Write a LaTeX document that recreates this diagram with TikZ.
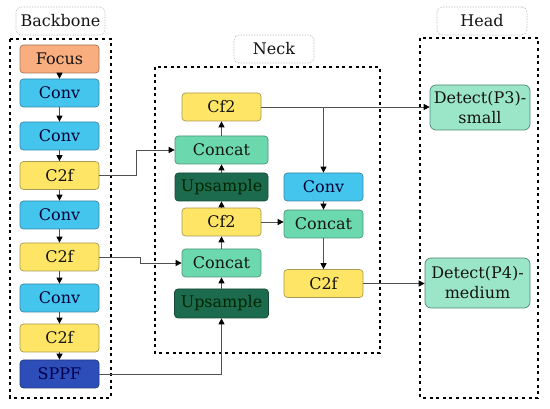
\documentclass[tikz,border=0pt]{standalone}
\usepackage{fontspec}
\setmainfont{DejaVu Serif}
\usetikzlibrary{arrows.meta,positioning}
\definecolor{focusF}{HTML}{F9AE80}\definecolor{focusD}{HTML}{A87656}
\definecolor{convF}{HTML}{44C5EE}\definecolor{convD}{HTML}{3A88A8}
\definecolor{cfF}{HTML}{FFE566}\definecolor{cfD}{HTML}{A89A4E}
\definecolor{sppfF}{HTML}{2D4DB8}\definecolor{sppfD}{HTML}{22397E}
\definecolor{catF}{HTML}{6CD8AE}\definecolor{catD}{HTML}{4A957A}
\definecolor{upF}{HTML}{1D6B4E}\definecolor{upD}{HTML}{164A37}
\definecolor{detF}{HTML}{9BE5C9}\definecolor{detD}{HTML}{4D8A72}
\definecolor{txt}{HTML}{141414}
\definecolor{lineC}{HTML}{505050}
\tikzset{
  blk/.style={rounded corners=3.5pt, line width=0.7pt, minimum width=79pt, minimum height=28pt, inner sep=0pt, font=\fontsize{16}{18}\selectfont, text=txt},
  focusb/.style={blk, fill=focusF, draw=focusD},
  convb/.style={blk, fill=convF, draw=convD, text={black!80!blue}},
  cfb/.style={blk, fill=cfF, draw=cfD},
  sppfb/.style={blk, fill=sppfF, draw=sppfD, text={black!70!blue}},
  catb/.style={blk, fill=catF, draw=catD},
  upb/.style={blk, fill=upF, draw=upD, text={black!85!green}},
  detb/.style={blk, fill=detF, draw=detD, align=center, font=\fontsize{16}{20}\selectfont, rounded corners=6pt},
  lbl/.style={rounded corners=5pt, draw=black!35, densely dotted, line width=0.6pt, minimum height=28pt, inner sep=0pt, font=\fontsize{16}{18}\selectfont, text=txt},
  group/.style={draw=black, line width=2.2pt, dash pattern=on 3pt off 3.6pt},
  arr/.style={draw=lineC, line width=0.8pt, -{Triangle[length=6pt,width=6pt,color=black]}},
  ln/.style={draw=lineC, line width=0.8pt}
}
\begin{document}
\begin{tikzpicture}[x=1pt,y=-1pt]
\useasboundingbox (0,0) rectangle (550,409);
% groups
\draw[group] (10,39) rectangle (111,398);
\draw[group] (155,67) rectangle (380,353);
\draw[group] (420,38) rectangle (538,398);
% labels
\node[lbl, minimum width=89pt] (lb) at (60.5,21) {Backbone};
\node[lbl, minimum width=80pt] (ln) at (274,49) {Neck};
\node[lbl, minimum width=90pt] (lh) at (482,21) {Head};
% backbone
\node[focusb] (focus) at (59.5,59) {Focus};
\node[convb] (conv1) at (59.5,93) {Conv};
\node[convb] (conv2) at (59.5,136) {Conv};
\node[cfb] (c2f1) at (59.5,175.5) {C2f};
\node[convb] (conv3) at (59.5,215) {Conv};
\node[cfb] (c2f2) at (59.5,257) {C2f};
\node[convb] (conv4) at (59.5,298) {Conv};
\node[cfb] (c2f3) at (59.5,338) {C2f};
\node[sppfb] (sppf) at (59.5,374) {SPPF};
% neck
\node[cfb] (cf2t) at (221.5,107) {Cf2};
\node[catb, minimum width=93pt] (catt) at (221.5,150) {Concat};
\node[upb, minimum width=93pt] (upt) at (221.5,187) {Upsample};
\node[cfb] (cf2m) at (221.5,222) {Cf2};
\node[catb] (catm) at (221.5,263) {Concat};
\node[upb, minimum width=94pt, minimum height=29pt] (upbot) at (221.5,303.5) {Upsample};
\node[convb] (convr) at (323.5,187) {Conv};
\node[catb] (catr) at (323.5,224) {Concat};
\node[cfb] (c2fr) at (323.5,283.5) {C2f};
% head
\node[detb, minimum width=100pt, minimum height=45pt] (det3) at (480,107.5) {Detect(P3)-\\small};
\node[detb, minimum width=105pt, minimum height=50pt] (det4) at (477.5,283) {Detect(P4)-\\medium};
% backbone arrows
\foreach \a/\b in {focus/conv1,conv1/conv2,conv2/c2f1,c2f1/conv3,conv3/c2f2,c2f2/conv4,conv4/c2f3,c2f3/sppf}
  \draw[arr] (\a.south) -- (\b.north);
% neck vertical
\draw[arr] (upbot.north) -- (catm.south);
\draw[arr] (catm.north) -- (cf2m.south);
\draw[arr] (cf2m.north) -- (upt.south);
\draw[arr] (upt.north) -- (catt.south);
\draw[arr] (catt.north) -- (cf2t.south);
\draw[arr] (convr.south) -- (catr.north);
\draw[arr] (catr.south) -- (c2fr.north);
% cross connections
\draw[arr] (c2f1.east) -- ([xshift=37pt]c2f1.east) |- (catt.west);
\draw[arr] (c2f2.east) -- ([xshift=41pt]c2f2.east) |- (catm.west);
\draw[arr] (sppf.east) -| (upbot.south);
\coordinate (br) at (cf2t.east -| convr.north);
\draw[arr] (cf2t.east) -- (cf2t.east -| det3.west);
\draw[arr] (br) -- (convr.north);
\draw[arr] (cf2m.east) -- (cf2m.east -| catr.west);
\draw[arr] (c2fr.east) -- (c2fr.east -| det4.west);
\end{tikzpicture}
\end{document}
